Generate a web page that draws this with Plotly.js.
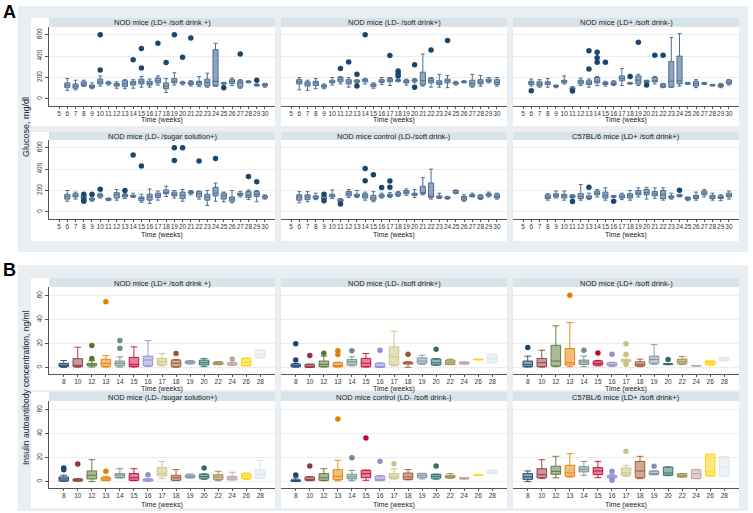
<!DOCTYPE html>
<html><head><meta charset="utf-8">
<script src="https://cdn.plot.ly/plotly-3.0.1.min.js"></script>
<style>html,body{margin:0;padding:0;background:#fff}#chart{width:753px;height:513px}</style>
</head><body><div id="chart"></div>
<script>
// ---------- categories & titles ----------
const glucoseWeeks = ['5','6','7','8','9','10','11','12','13','14','15','16','17','18','19','20','21','22','23','24','25','26','27','28','29','30'];
const insulinWeeks = ['8','10','12','13','14','15','16','17','18','19','20','22','24','26','28'];
const glucoseTitles = ['NOD mice (LD+ /soft drink +)','NOD mice (LD- /soft drink+)','NOD mice (LD+ /soft drink-)','NOD mice (LD- /sugar solution+)','NOD mice control (LD-/soft drink-)','C57BL/6 mice (LD+ /soft drink+)'];
const insulinTitles = ['NOD mice (LD+ /soft drink +)','NOD mice (LD- /soft drink+)','NOD mice (LD+ /soft drink-)','NOD mice (LD- /sugar solution+)','NOD mice control (LD- /soft drink-)','C57BL/6 mice (LD+ /soft drink+)'];
const glucoseTicks = [0,200,400,600];
const insulinTicks = [0,20,40,60];
const xTitle = 'Time (weeks)';
const glucoseYTitle = 'Glucose, mg/dl';
const insulinYTitle = 'Insulin autoantibody concentration, ng/ml';

// ---------- Glucose (weeks 5..30) ----------
const g1Q1  = [null,105,100,125,105,140,140,120,115,130,140,130,150,95,150,145,135,130,120,120,140,145,110,155,125,120];
const g1Med = [null,125,118,140,115,160,148,132,140,150,160,145,170,120,165,150,150,155,155,165,145,165,150,160,130,130];
const g1Q3  = [null,150,140,160,130,185,155,145,170,165,185,165,195,150,190,155,160,165,185,460,150,180,170,165,135,140];
const g1Lo  = [null,80,85,115,95,120,130,100,95,100,110,110,130,60,130,130,120,115,110,120,130,125,100,150,120,110];
const g1Hi  = [null,190,175,175,150,215,165,160,180,180,210,185,215,190,245,165,170,210,240,520,155,195,180,170,140,145];
const g1OutWeek = ['10','10','14','15','15','17','18','19','20','21','25','27','29'];
const g1OutVal  = [600,270,365,470,290,520,340,600,390,570,105,420,175];

const g2Q1  = [null,140,120,125,110,150,160,140,155,160,115,155,160,165,150,165,130,150,135,150,140,155,120,140,160,135];
const g2Med = [null,160,140,150,120,160,180,160,170,175,130,165,175,172,160,175,170,170,150,170,148,160,145,160,170,155];
const g2Q3  = [null,180,160,165,130,175,200,180,175,185,140,180,190,180,175,180,250,190,170,185,155,165,175,180,185,180];
const g2Lo  = [null,85,80,95,95,130,140,110,140,140,100,135,125,160,130,150,120,110,110,105,130,150,110,120,150,120];
const g2Hi  = [null,200,175,190,140,200,210,200,180,190,150,200,200,185,185,190,420,200,230,220,165,170,230,220,200,200];
const g2OutWeek = ['11','12','13','13','14','17','18','18','18','20','20','22','24'];
const g2OutVal  = [285,345,230,120,600,405,260,235,215,320,110,456,545];

const g3Q1  = [null,135,120,135,115,150,90,140,135,150,135,135,170,140,140,155,160,110,110,140,140,120,140,125,115,140];
const g3Med = [null,150,140,150,120,165,98,160,150,165,145,145,190,145,175,165,170,120,165,170,145,140,145,130,125,155];
const g3Q3  = [null,165,160,160,125,175,105,175,170,200,155,160,215,150,215,170,200,140,350,400,150,165,150,135,135,175];
const g3Lo  = [null,120,110,110,105,140,85,125,110,125,120,125,125,140,125,150,140,105,110,120,135,105,135,120,105,130];
const g3Hi  = [null,185,180,190,130,215,115,195,185,210,165,170,285,155,230,175,210,145,573,610,155,180,155,135,145,180];
const g3OutWeek = ['6','11','13','13','14','14','14','15','18','19','20','21','22'];
const g3OutVal  = [76,75,450,280,437,384,342,342,210,529,130,409,409];

const g4Q1  = [null,120,140,125,110,140,110,130,140,140,105,110,135,170,150,125,175,140,110,150,120,100,155,135,145,130];
const g4Med = [null,145,150,135,120,150,120,160,155,150,125,140,155,180,165,155,180,170,140,175,150,120,165,155,165,140];
const g4Q3  = [null,165,170,150,130,165,125,180,165,155,140,165,175,205,185,185,190,190,165,230,175,140,175,190,190,150];
const g4Lo  = [null,100,120,120,100,130,105,110,125,135,90,80,110,145,130,100,160,120,60,100,95,85,140,115,95,120];
const g4Hi  = [null,200,185,155,145,175,130,210,175,175,165,215,195,240,200,210,200,195,200,270,185,200,190,205,200,160];
const g4OutWeek = ['8','8','8','9','10','13','14','15','19','19','20','22','24','28','29'];
const g4OutVal  = [165,110,100,165,212,200,531,430,600,481,600,475,500,332,282];

const g5Q1  = [null,110,115,125,120,140,95,150,145,130,110,140,145,155,170,155,170,135,130,125,175,110,145,125,150,130];
const g5Med = [null,140,140,140,130,150,105,170,155,150,130,150,155,165,185,165,180,150,140,130,185,130,155,135,160,145];
const g5Q3  = [null,160,160,150,145,165,120,190,165,170,155,160,165,180,200,175,240,270,150,140,200,145,160,155,170,165];
const g5Lo  = [null,85,95,115,110,125,90,135,135,110,95,130,135,145,155,135,160,120,125,120,170,100,140,115,140,120];
const g5Hi  = [null,190,190,175,150,205,125,210,200,185,190,175,180,190,215,210,320,400,175,145,205,160,175,160,185,175];
const g5OutWeek = ['9','9','11','14','14','15','16','17','17'];
const g5OutVal  = [165,105,75,406,291,347,228,290,230];

const g6Q1  = [null,null,null,125,140,130,135,125,125,160,130,140,130,130,160,160,150,125,130,145,115,125,160,125,125,140];
const g6Med = [null,null,null,140,155,150,145,145,140,175,155,145,140,150,175,180,170,160,140,150,125,140,175,140,135,155];
const g6Q3  = [null,null,null,160,170,165,155,170,150,195,185,150,160,170,200,210,190,200,150,160,135,155,195,155,150,175];
const g6Lo  = [null,null,null,110,130,110,120,110,115,140,110,135,115,110,140,120,125,110,120,140,105,110,140,110,105,120];
const g6Hi  = [null,null,null,170,195,195,160,256,175,210,225,155,175,200,225,230,225,225,175,165,140,185,210,175,160,195];
const g6OutWeek = ['11','13','16','24'];
const g6OutVal  = [97,231,100,203];

// ---------- Insulin autoantibody (weeks 8..28) ----------
const i1Q1  = [1,1,1.5,1,1.5,1,1.6,2.2,0.8,3.6,2.2,2.7,2.2,1.6,8.2];
const i1Med = [2,2,2.2,3.5,3.6,2.7,6.3,4.9,3.6,4.5,4.1,3.7,3,4.5,11];
const i1Q3  = [3.5,7.5,3.6,7,5.5,8.5,9.6,7.7,6.3,5.5,6.3,4.7,4.1,7.7,14.5];
const i1Lo  = [0.2,0.3,0.5,0.5,0.5,0.5,1,1.5,0.3,3,0.8,2.5,2,1.5,8];
const i1Hi  = [6,17,5.8,10,9,17.3,22.5,11.8,6.8,5.8,7.7,5,4.5,8,15];
const i1OutWeek = ['12','12','13','14','14','18','24'];
const i1OutVal  = [18.4,7.7,55,22.7,16.2,11.8,7.1];

const i2Q1  = [0.8,0.3,0.8,0.8,2.2,0.8,0.3,2.2,3,3.6,2.2,2.7,3,6.5,4];
const i2Med = [1.5,1,2.7,1.8,4.9,3.6,1,9,3.5,5.5,4,4.4,3.6,6.8,7];
const i2Q3  = [3,2.7,5.5,4.1,6.8,7.7,3.6,17.3,4.5,8.2,7.1,6.3,4.7,7,11];
const i2Lo  = [0.3,0.2,0.5,0.5,1.5,0.5,0.2,1.5,0.3,2.7,1.8,2.5,3,6.5,4];
const i2Hi  = [3.5,3,9.6,4.5,9,11.8,4,30.4,5,10.4,7.5,7.1,4.7,7,11];
const i2OutWeek = ['8','8','10','12','13','13','14','16','18','20'];
const i2OutVal  = [20,6.3,10.1,12,14,11,14,14.5,11.2,15.3];

const i3Q1  = [0.8,0.8,1.4,2.2,2.7,2.2,1.6,5,1.4,3.6,2.5,3.3,1.4,2.2,5.8];
const i3Med = [2.5,4.1,5.5,4.1,4.7,3.5,2.5,6,2.7,6.8,3,5,1.6,4,7];
const i3Q3  = [5.5,7.7,18.6,15.9,6.3,5.5,4.1,7,4.9,9.6,3.2,7.1,1.8,5.5,8.5];
const i3Lo  = [0.5,0.5,0.8,0.8,0.8,1.5,1,4.5,0.8,2.7,2.5,2.5,1.4,2.2,5.8];
const i3Hi  = [9.6,14.5,34.8,37.5,9.6,6,4.5,9.6,7.1,19.2,3.2,9.3,1.8,5.5,8.5];
const i3OutWeek = ['8','13','14','15','16','17','17','17','20'];
const i3OutVal  = [16.7,60.3,14.5,12.3,11.2,20,11.2,2.8,6.8];

const i4Q1  = [0.6,0.6,2.2,1.1,3.3,1.1,0.6,4.7,1.1,3.3,2.8,1.7,1.7,2.5,3];
const i4Med = [2.2,1,5.3,2.2,5.3,3.3,1.5,6.7,3.3,4.4,4.2,3.9,3.3,4.7,6];
const i4Q3  = [3.9,2.2,8.9,3.3,6.7,6.7,2.2,11.7,5.3,5.6,6.1,5.8,4.4,6.7,10];
const i4Lo  = [0.2,0.3,0,0.8,3,0.8,0.3,2.5,0.8,3,1.9,0.8,1.2,1.8,2.5];
const i4Hi  = [5.3,2.5,18.3,4.4,10.8,10.8,2.5,16.9,10,6.4,6.5,8.6,7.8,7.2,17.5];
const i4OutWeek = ['8','8','10','13','16','20'];
const i4OutVal  = [11.4,10,14.7,8.6,5.8,11.4];

const i5Q1  = [0.3,1.1,1.1,1.7,2.2,3.3,1.1,2.8,1.9,3.3,2.8,3.1,2.2,5.2,6.7];
const i5Med = [0.8,1.9,3.3,4.4,3.9,6.7,1.9,3.9,3.9,5,4.4,4.2,2.8,5.3,8];
const i5Q3  = [1.5,3.9,6.7,10,6.1,9.4,4.7,6.7,7.2,6.7,6.1,5.3,3.3,5.4,9.4];
const i5Lo  = [0,0.8,0.8,0.8,0.8,1.1,0.8,2,1.5,2.2,2,2.8,2.2,5.2,6.7];
const i5Hi  = [3,4.2,10.8,17.8,9.4,9.6,5,10.8,10,7,6.3,6.7,3.3,5.4,9.4];
const i5OutWeek = ['8','10','13','14','15','16','17','20'];
const i5OutVal  = [5.6,13,52.2,20,36.4,16.9,15,13];

const i6Q1  = [1.7,3.3,6.1,4.4,8.1,5.8,3.3,5.3,3.3,5.8,5.3,3.9,2.5,4.7,4.4];
const i6Med = [3.9,5.8,8.6,7.2,10.3,8.9,4.2,7.2,8.9,6.7,7.2,5,6.7,8.1,12];
const i6Q3  = [6.7,10.8,12.8,13.6,12.5,11.7,5,11.4,16.9,8.9,12.2,6.7,10,22.8,20.6];
const i6Lo  = [0,2.5,3.1,3.9,5.3,3.3,2.5,4.5,2.5,5.8,5,3.9,2.5,4.7,4.4];
const i6Hi  = [8.9,18.3,21.1,23.3,16.9,16.9,6,13.6,21.1,8.9,12.2,6.7,10,22.8,20.6];
const i6OutWeek = ['16','16','17','19'];
const i6OutVal  = [8.6,1.1,25.3,12.8];

// Stata s2color palette
const palette = ['#1a476f','#90353b','#55752f','#e37e00','#6e8e84','#c10534','#938dd2','#cac27e','#a0522d','#7b92a8','#2d6d66','#9c8847','#bfa19c','#ffd200','#d9e6eb'];

// ---------- layout geometry (pixels) ----------
const W = 753, H = 513;
const fx = p => p / W;
const fy = p => 1 - p / H;
const cols = [[49,275],[281,507],[513,739]];
const plotRows = [[27,106],[140,219],[287,374],[401,488]];
const stripRows = [[18,27],[132,140],[278,287],[392,401]];
const whiteRows = [[18,126],[132,241],[278,390],[392,508]];
const xTitleY = [120,235,389,505];

const FONT = 'Liberation Sans, Arial, sans-serif';
const layout = {
  width: W, height: H, margin: {l:0,r:0,t:0,b:0},
  paper_bgcolor: '#ffffff', plot_bgcolor: 'rgba(0,0,0,0)',
  showlegend: false, boxmode: 'overlay',
  font: {family: FONT, color: '#222', size: 7},
  shapes: [], annotations: []
};
const rect = (x0,x1,y0,y1,color) => ({type:'rect',xref:'paper',yref:'paper',x0:fx(x0),x1:fx(x1),y0:fy(y1),y1:fy(y0),fillcolor:color,line:{width:0},layer:'below'});
layout.shapes.push(rect(18,748,6,252,'#e8eef2'));
layout.shapes.push(rect(18,748,265,511,'#e8eef2'));

const ann = (text,x,y,opts) => Object.assign({text:text,xref:'paper',yref:'paper',x:fx(x),y:fy(y),xanchor:'center',yanchor:'middle',showarrow:false,font:{family:FONT,size:7,color:'#222'}},opts||{});

const traces = [];
const glucose = [
  [g1Q1,g1Med,g1Q3,g1Lo,g1Hi,g1OutWeek,g1OutVal],
  [g2Q1,g2Med,g2Q3,g2Lo,g2Hi,g2OutWeek,g2OutVal],
  [g3Q1,g3Med,g3Q3,g3Lo,g3Hi,g3OutWeek,g3OutVal],
  [g4Q1,g4Med,g4Q3,g4Lo,g4Hi,g4OutWeek,g4OutVal],
  [g5Q1,g5Med,g5Q3,g5Lo,g5Hi,g5OutWeek,g5OutVal],
  [g6Q1,g6Med,g6Q3,g6Lo,g6Hi,g6OutWeek,g6OutVal]
];
const insulin = [
  [i1Q1,i1Med,i1Q3,i1Lo,i1Hi,i1OutWeek,i1OutVal],
  [i2Q1,i2Med,i2Q3,i2Lo,i2Hi,i2OutWeek,i2OutVal],
  [i3Q1,i3Med,i3Q3,i3Lo,i3Hi,i3OutWeek,i3OutVal],
  [i4Q1,i4Med,i4Q3,i4Lo,i4Hi,i4OutWeek,i4OutVal],
  [i5Q1,i5Med,i5Q3,i5Lo,i5Hi,i5OutWeek,i5OutVal],
  [i6Q1,i6Med,i6Q3,i6Lo,i6Hi,i6OutWeek,i6OutVal]
];

function hexA(h,a){const r=parseInt(h.slice(1,3),16),g=parseInt(h.slice(3,5),16),b=parseInt(h.slice(5,7),16);return `rgba(${r},${g},${b},${a})`;}

for (let p = 0; p < 12; p++) {
  const isG = p < 6;
  const row = Math.floor(p / 3);
  const col = p % 3;
  const n = p + 1;
  const xa = 'xaxis' + (n > 1 ? n : ''), ya = 'yaxis' + (n > 1 ? n : '');
  const xr = 'x' + (n > 1 ? n : ''), yr = 'y' + (n > 1 ? n : '');
  const cats = isG ? glucoseWeeks : insulinWeeks;
  const [c0, c1] = cols[col];
  const [r0, r1] = plotRows[row];
  const xRange = isG ? [-1.22, cats.length - 1 + 1.22] : [-1.05, cats.length - 1 + 1.05];
  layout[xa] = {
    domain: [fx(c0), fx(c1)], anchor: yr, range: xRange,
    tickmode: 'array', tickvals: cats.map((_, i) => i), ticktext: cats,
    showgrid: false, zeroline: false, showline: true, linecolor: '#555', linewidth: 1,
    ticks: 'outside', ticklen: 2, tickcolor: '#555', tickangle: 0, ticklabelstandoff: -1,
    tickfont: {family: FONT, size: 6.5, color: '#333'},
    fixedrange: true
  };
  layout[ya] = {
    domain: [fy(r1), fy(r0)], anchor: xr,
    range: isG ? [-66, 672] : [-5.3, 67.2],
    tickmode: 'array', tickvals: isG ? glucoseTicks : insulinTicks,
    showgrid: true, gridcolor: '#ececec', gridwidth: 1, zeroline: false,
    showline: col === 0, linecolor: '#555', linewidth: 1,
    ticks: col === 0 ? 'outside' : '', ticklen: 3, tickcolor: '#555',
    showticklabels: col === 0, tickangle: -90, tickfont: {family: FONT, size: 6.5, color: '#333'},
    fixedrange: true
  };
  // subplot white background and strip
  const [w0, w1] = whiteRows[row];
  layout.shapes.push(rect(col === 0 ? 31 : c0, c1, w0, w1, '#ffffff'));
  const [s0, s1] = stripRows[row];
  layout.shapes.push(rect(c0, c1, s0, s1, '#d9e4ea'));
  const title = isG ? glucoseTitles[p] : insulinTitles[p - 6];
  layout.annotations.push(ann(title, (c0 + c1) / 2, (s0 + s1) / 2 + 0.5, {font: {family: FONT, size: 7.5, color: '#222'}}));
  layout.annotations.push(ann(xTitle, (c0 + c1) / 2, xTitleY[row], {font: {family: FONT, size: 7, color: '#222'}}));

  const d = isG ? glucose[p] : insulin[p - 6];
  const [q1, med, q3, lo, hi, outW, outV] = d;
  if (isG) {
    const idx = q1.map((v, i) => v === null ? -1 : i).filter(i => i >= 0);
    traces.push({
      type: 'box', xaxis: xr, yaxis: yr, x: idx,
      q1: idx.map(i => q1[i]), median: idx.map(i => med[i]), q3: idx.map(i => q3[i]),
      lowerfence: idx.map(i => lo[i]), upperfence: idx.map(i => hi[i]),
      width: 0.62, whiskerwidth: 0.75, boxpoints: false,
      fillcolor: '#8ea5bf', line: {color: '#4b6e92', width: 1}, hoverinfo: 'skip'
    });
    traces.push({
      type: 'scatter', mode: 'markers', xaxis: xr, yaxis: yr,
      x: outW.map(w => cats.indexOf(w)), y: outV,
      marker: {color: '#1a476f', size: 5.5}, hoverinfo: 'skip'
    });
  } else {
    cats.forEach((w, i) => {
      const c = palette[i];
      traces.push({
        type: 'box', xaxis: xr, yaxis: yr, x: [i],
        q1: [q1[i]], median: [med[i]], q3: [q3[i]], lowerfence: [lo[i]], upperfence: [hi[i]],
        width: 0.68, whiskerwidth: 0.7, boxpoints: false,
        fillcolor: hexA(c, 0.5), line: {color: hexA(c, 0.9), width: 1}, hoverinfo: 'skip'
      });
    });
    traces.push({
      type: 'scatter', mode: 'markers', xaxis: xr, yaxis: yr,
      x: outW.map(w => cats.indexOf(w)), y: outV,
      marker: {color: outW.map(w => palette[cats.indexOf(w)]), size: 5.5}, hoverinfo: 'skip'
    });
  }
}

// shared y titles and panel letters
layout.annotations.push(ann(glucoseYTitle, 26, 127, {textangle: -90, font: {family: FONT, size: 9, color: '#222'}}));
layout.annotations.push(ann(insulinYTitle, 26, 388, {textangle: -90, font: {family: FONT, size: 8.5, color: '#222'}}));
layout.annotations.push(ann('<b>A</b>', 9, 12, {font: {family: FONT, size: 18, color: '#000'}}));
layout.annotations.push(ann('<b>B</b>', 9, 270, {font: {family: FONT, size: 18, color: '#000'}}));

Plotly.newPlot('chart', traces, layout, {staticPlot: true, displayModeBar: false});
</script>
</body></html>
